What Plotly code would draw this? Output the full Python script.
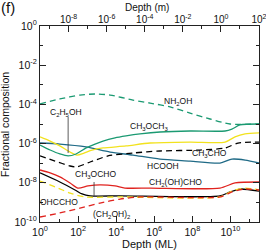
import plotly.graph_objects as go

# ---- data (depth in monolayers, fractional composition) ----
nh2oh_x = [1, 11, 126, 776, 4790, 7.59e4, 6.03e5, 6.76e6, 7.59e7, 8.51e8, 9.55e9, 3.16e11]
nh2oh_y = [1.05e-4, 1.9e-4, 3.0e-4, 3.4e-4, 3.0e-4, 1.66e-4, 1.17e-4, 7.4e-5, 3.6e-5, 1.8e-5, 1.0e-5, 1.0e-5]

ch3och3_x = [1, 3.4, 11, 30, 78, 263, 776, 2040, 8710, 3.31e4, 1.78e5, 2.0e6, 7.59e7, 5.25e9, 1.2e10, 3.16e10, 3.16e11]
ch3och3_y = [8.5e-7, 4.7e-7, 2.95e-7, 2.35e-7, 2.95e-7, 6.0e-7, 9.5e-7, 1.35e-6, 1.95e-6, 2.45e-6, 3.1e-6, 3.9e-6, 4.4e-6, 4.4e-6, 5.5e-6, 8.9e-6, 1.0e-5]

c2h5oh_x = [1, 3.4, 11, 38, 87, 204, 537, 2040, 3.31e4, 6.03e5, 7.59e7, 5.25e9, 1.74e10, 5.89e10, 3.16e11]
c2h5oh_y = [2.2e-6, 1.35e-6, 7.6e-7, 3.7e-7, 2.6e-7, 3.3e-7, 4.7e-7, 6.0e-7, 7.6e-7, 1.07e-6, 1.2e-6, 1.2e-6, 2.2e-6, 3.1e-6, 3.5e-6]

hcooh_x = [1, 11, 263, 4790, 7.59e4, 2.0e6, 7.59e7, 2.82e9, 1.2e10, 5.89e10, 3.16e11]
hcooh_y = [1.07e-6, 9.5e-7, 6.8e-7, 3.7e-7, 2.6e-7, 1.62e-7, 1.29e-7, 1.02e-7, 1.62e-7, 1.45e-7, 1.02e-7]

ch3cho_x = [1, 6.2, 38, 87, 427, 3720, 7.59e4, 2.0e6, 2.51e8, 5.25e9, 2.51e10, 3.16e11]
ch3cho_y = [2.35e-7, 1.29e-7, 7.2e-8, 6.5e-8, 1.15e-7, 2.35e-7, 3.3e-7, 4.2e-7, 4.7e-7, 6.0e-7, 1.07e-6, 1.2e-6]

ch2ohcho_x = [1, 3.4, 11, 38, 98, 331, 1410, 8710, 2.88e4, 6.03e5, 2.82e9, 1.74e10, 3.16e11]
ch2ohcho_y = [4.5e-8, 3.2e-8, 2.0e-8, 9.8e-9, 5.4e-9, 6.9e-9, 7.8e-9, 6.9e-9, 5.4e-9, 5.4e-9, 5.4e-9, 9.8e-9, 1.1e-8]

ch3ocho_x = [1, 11, 69, 162, 427, 1.58e4, 2.82e9, 9.55e9, 3.16e10, 3.16e11]
ch3ocho_y = [3.2e-8, 1.1e-8, 4.3e-9, 2.7e-9, 2.15e-9, 2.15e-9, 2.15e-9, 3.4e-9, 4.8e-9, 3.8e-9]

ohccho_x = [1, 6.2, 38, 229, 1.58e4, 2.82e9, 1.2e10, 5.89e10, 3.16e11]
ohccho_y = [1.23e-8, 6.2e-9, 3.0e-9, 1.9e-9, 1.9e-9, 1.9e-9, 3.8e-9, 5.4e-9, 4.3e-9]

ch2oh2_x = [1, 11, 126, 1410, 1.58e4, 1.78e5, 2.82e9, 1.2e10, 5.89e10, 3.16e11]
ch2oh2_y = [1.8e-10, 2.9e-10, 5.1e-10, 9.3e-10, 1.48e-9, 1.9e-9, 1.9e-9, 3.4e-9, 4.8e-9, 4.3e-9]

bottom_tickvals = [1e0, 1e2, 1e4, 1e6, 1e8, 1e10]
bottom_ticktext = ["10<sup>0</sup>", "10<sup>2</sup>", "10<sup>4</sup>", "10<sup>6</sup>", "10<sup>8</sup>", "10<sup>10</sup>"]
top_tickvals = [1e-8, 1e-6, 1e-4, 1e-2, 1e0, 1e2]
top_ticktext = ["10<sup>-8</sup>", "10<sup>-6</sup>", "10<sup>-4</sup>", "10<sup>-2</sup>", "10<sup>0</sup>", "10<sup>2</sup>"]
y_tickvals = [1e0, 1e-2, 1e-4, 1e-6, 1e-8, 1e-10]
y_ticktext = ["10<sup>0</sup>", "10<sup>-2</sup>", "10<sup>-4</sup>", "10<sup>-6</sup>", "10<sup>-8</sup>", "10<sup>-10</sup>"]

GREEN = "#1b9a72"
BLUE = "#1f6a86"
YELLOW = "#f2e21e"
RED = "#e0231f"
BLACK = "#000000"
DASH = "6px,4px"
W = 1.3

fig = go.Figure()

series = [
    (hcooh_x, hcooh_y, BLUE, "solid"),
    (ch3cho_x, ch3cho_y, BLACK, DASH),
    (c2h5oh_x, c2h5oh_y, YELLOW, "solid"),
    (ch3och3_x, ch3och3_y, GREEN, "solid"),
    (nh2oh_x, nh2oh_y, GREEN, DASH),
    (ch2ohcho_x, ch2ohcho_y, RED, "solid"),
    (ch3ocho_x, ch3ocho_y, BLACK, "solid"),
    (ohccho_x, ohccho_y, YELLOW, DASH),
    (ch2oh2_x, ch2oh2_y, RED, DASH),
]
for xs, ys, col, dash in series:
    fig.add_trace(go.Scatter(x=xs, y=ys, mode="lines",
                             line=dict(color=col, width=W, dash=dash, shape="spline", smoothing=0.7),
                             showlegend=False, hoverinfo="skip"))

# pointer lines for labels
pointer_x = [[30, 30], [690, 690]]
pointer_y = [[2.3e-5, 3.3e-7], [1.1e-8, 2.15e-9]]
for px, py in zip(pointer_x, pointer_y):
    fig.add_trace(go.Scatter(x=px, y=py, mode="lines", line=dict(color="#333333", width=0.8),
                             showlegend=False, hoverinfo="skip"))

# invisible trace to anchor the top axis (depth in metres)
fig.add_trace(go.Scatter(x=[1e-9, 1e2], y=[1e-5, 1e-5], xaxis="x2", mode="lines",
                         line=dict(width=0), opacity=0, showlegend=False, hoverinfo="skip"))

labels = [
    ("NH<sub>2</sub>OH", 7.25, -3.83),
    ("C<sub>2</sub>H<sub>5</sub>OH", 1.37, -4.39),
    ("CH<sub>3</sub>OCH<sub>3</sub>", 5.72, -5.15),
    ("CH<sub>3</sub>CHO", 8.88, -6.48),
    ("HCOOH", 6.46, -7.14),
    ("CH<sub>2</sub>(OH)CHO", 7.09, -7.96),
    ("CH<sub>3</sub>OCHO", 2.89, -7.6),
    ("OHCCHO", 1.0, -8.98),
    ("(CH<sub>2</sub>OH)<sub>2</sub>", 3.73, -9.64),
]
FONT = "Liberation Sans, Arial, Helvetica, sans-serif"
for txt, lx, ly in labels:
    fig.add_annotation(x=lx, y=ly, xref="x", yref="y", text=txt, showarrow=False,
                       font=dict(size=8.5, color="#111111", family=FONT))

# titles placed as annotations
titles = [
    ("(f)", -0.146, 1.095, 0, 15, "middle"),
    ("Depth (m)", 0.49, 1.13, 0, 10, "top"),
    ("Depth (ML)", 0.5, -0.112, 0, 11, "middle"),
    ("Fractional composition", -0.16, 0.5, -90, 10.5, "middle"),
]
for txt, tx, ty, ang, sz, ya in titles:
    fig.add_annotation(x=tx, y=ty, xref="paper", yref="paper", text=txt, showarrow=False,
                       xanchor="center", yanchor=ya, textangle=ang, borderpad=0,
                       font=dict(size=sz, color="#111111", family=FONT))

axis_common = dict(type="log", showgrid=False, zeroline=False, showline=True, automargin=False,
                   linecolor="#222222", linewidth=1.2, ticks="inside", ticklen=6,
                   tickcolor="#222222", tickwidth=1, ticklabeloverflow="allow",
                   tickfont=dict(size=10.5, color="#111111", family=FONT))
top_axis = dict(axis_common, tickfont=dict(size=10, color="#111111", family=FONT),
                ticklabelstandoff=-2)

fig.update_layout(
    width=266, height=250,
    margin=dict(l=40, r=7, t=26, b=28, autoexpand=False),
    paper_bgcolor="white", plot_bgcolor="white",
    font=dict(family=FONT, color="#111111"),
    xaxis=dict(**axis_common, range=[0, 11.5], tickmode="array",
               tickvals=bottom_tickvals, ticktext=bottom_ticktext,
               minor=dict(tickvals=[1e1, 1e3, 1e5, 1e7, 1e9, 1e11], ticklen=3, ticks="inside",
                          tickcolor="#222222")),
    xaxis2=dict(**top_axis, range=[-9.5, 2], overlaying="x", side="top", anchor="y",
                tickmode="array", tickvals=top_tickvals, ticktext=top_ticktext,
                minor=dict(tickvals=[1e-9, 1e-7, 1e-5, 1e-3, 1e-1, 1e1], ticklen=3, ticks="inside",
                           tickcolor="#222222")),
    yaxis=dict(**axis_common, range=[-10, 0], mirror="ticks", tickmode="array",
               tickvals=y_tickvals, ticktext=y_ticktext,
               minor=dict(tickvals=[1e-1, 1e-3, 1e-5, 1e-7, 1e-9], ticklen=3, ticks="inside",
                          tickcolor="#222222")),
)

fig.write_html("out.html", config={"displayModeBar": False},
               post_script="document.body.style.margin='0';document.body.style.overflow='hidden';")
